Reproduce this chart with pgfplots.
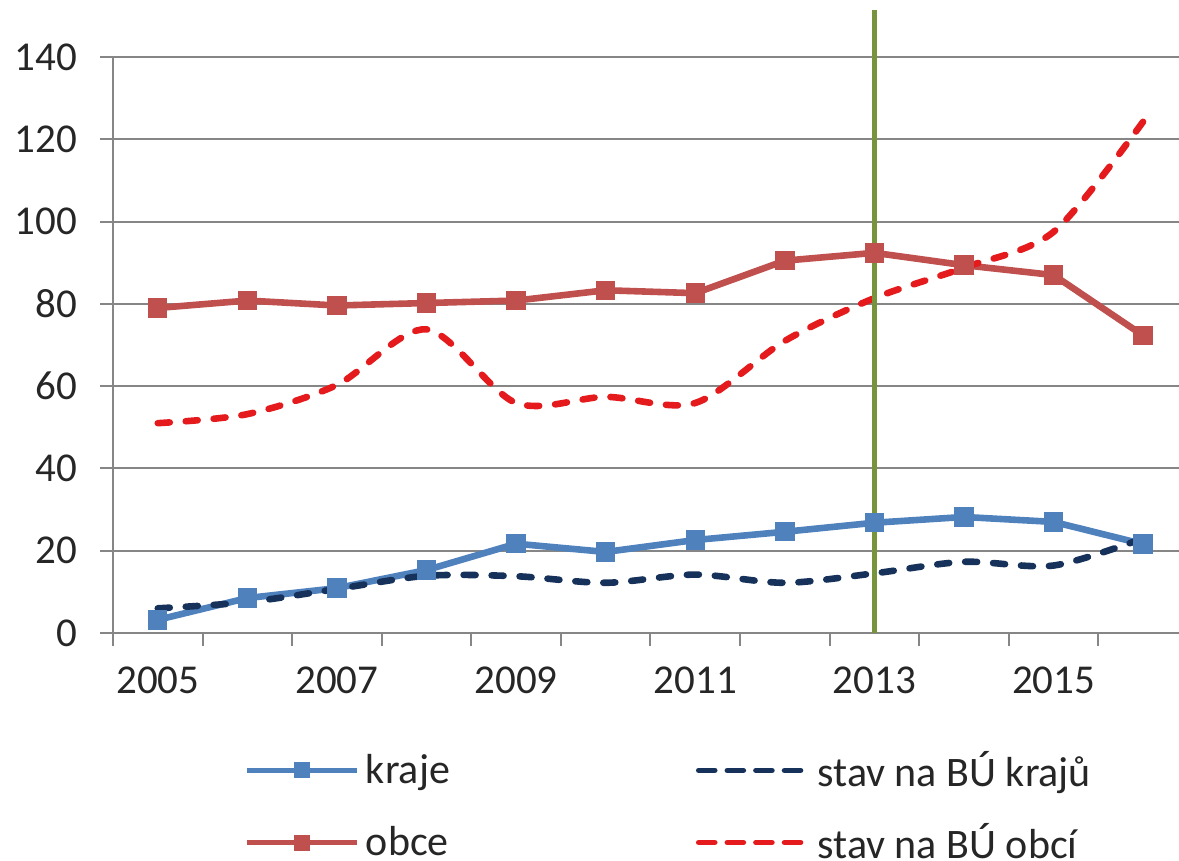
\documentclass[border=0pt]{standalone}
\usepackage{fontspec}
\setmainfont{Carlito}
\usepackage{pgfplots}
\pgfplotsset{compat=1.18}
\definecolor{cKraje}{RGB}{79,129,189}
\definecolor{cObce}{RGB}{192,80,77}
\definecolor{cNavy}{RGB}{23,50,90}
\definecolor{cRed}{RGB}{228,26,28}
\definecolor{cGreen}{RGB}{119,147,60}
\definecolor{cGrid}{RGB}{134,134,134}
\definecolor{cText}{RGB}{38,38,38}
\begin{document}
\begin{tikzpicture}
\begin{axis}[
  name=ax,
  scale only axis,
  width=533pt, height=288pt,
  xmin=-0.5, xmax=11.4,
  ymin=0, ymax=140,
  clip=false,
  axis lines=left,
  axis line style={-, cGrid, line width=1pt},
  ytick={0,20,...,140},
  ymajorgrids,
  grid style={cGrid, line width=1pt},
  xtick={-0.5,0.5,...,10.5},
  xticklabels={},
  extra x ticks={0,2,4,6,8,10},
  extra x tick labels={2005,2007,2009,2011,2013,2015},
  extra x tick style={major tick length=0pt, tick label style={yshift=-13.5pt}},
  tick align=outside,
  major tick length=6.5pt,
  tick style={cGrid, line width=1pt},
  /pgf/number format/assume math mode=true,
  tick label style={font=\fontsize{20.5}{24}\selectfont, text=cText},
  yticklabel style={xshift=-8pt},
  legend columns=2,
  legend cell align=left,
  legend style={at={(axis description cs:0,0)}, anchor=north west, xshift=65.5pt, yshift=-57pt,
    draw=none, fill=none, inner sep=0pt,
    font=\fontsize{21}{24}\selectfont, text=cText,
    row sep=13pt,
    nodes={inner xsep=1pt},
    /tikz/every odd column/.append style={column sep=2pt},
    /tikz/every even column/.append style={column sep=122pt}},
  legend image code/.code={\draw[mark repeat=2,mark phase=2,#1,line width=2.8pt,mark size=2.6pt] plot coordinates {(0pt,0pt) (27.5pt,0pt) (55pt,0pt)};},
]
\addplot[cKraje, line width=3.3pt, mark=square*, mark size=3.2pt, mark options={solid}] coordinates {
 (0,3.2) (1,8.5) (2,10.9) (3,15.3) (4,21.7) (5,19.7) (6,22.6) (7,24.6) (8,26.8) (9,28.2) (10,27.0) (11,21.6)};
\addlegendentry{kraje}
\addplot[cNavy, line width=3.3pt, line cap=round, dash pattern=on 6pt off 8pt, smooth, tension=0.5,
  legend image post style={dash pattern=on 8pt off 6.3pt}] coordinates {
 (0,6.0) (1,7.5) (2,10.7) (3,13.9) (4,13.8) (5,12.2) (6,14.2) (7,12.2) (8,14.5) (9,17.3) (10,16.4) (11,23.0)};
\addlegendentry{stav na BÚ krajů}
\addplot[cObce, line width=3.3pt, mark=square*, mark size=3.2pt, mark options={solid}] coordinates {
 (0,79.0) (1,80.8) (2,79.6) (3,80.2) (4,80.8) (5,83.3) (6,82.6) (7,90.5) (8,92.4) (9,89.4) (10,87.0) (11,72.3)};
\addlegendentry{obce}
\addplot[cRed, line width=3.3pt, line cap=round, dash pattern=on 6pt off 8pt, smooth, tension=0.5,
  legend image post style={dash pattern=on 8pt off 6.3pt}] coordinates {
 (0,51.0) (1,53.2) (2,60.3) (3,73.8) (4,55.9) (5,57.4) (6,55.9) (7,71.0) (8,81.4) (9,88.8) (10,97.5) (11,124.3)};
\addlegendentry{stav na BÚ obcí}
\addplot[cGreen, line width=2.9pt, forget plot] coordinates {(8,0) (8,151.4)};
\end{axis}
\pgfresetboundingbox
\path[use as bounding box] ([shift={(-56.5pt,-114pt)}]ax.south west) rectangle ([shift={(533pt,316.5pt)}]ax.south west);
\end{tikzpicture}
\end{document}
